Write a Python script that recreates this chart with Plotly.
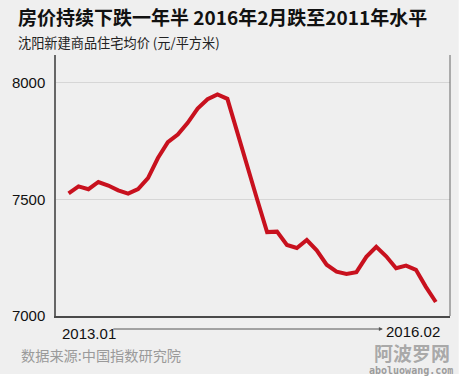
import plotly.graph_objects as go

# ---- data ----
months = [f"{y}.{m:02d}" for y in (2013, 2014, 2015, 2016) for m in range(1, 13)]
months = months[:38]  # 2013.01 .. 2016.02
prices = [7526, 7556, 7544, 7575, 7560, 7539, 7525, 7545, 7592, 7678,
          7746, 7779, 7829, 7890, 7930, 7951, 7932, 7784, 7642, 7500,
          7360, 7362, 7305, 7292, 7326, 7282, 7220, 7190, 7180, 7188,
          7254, 7297, 7256, 7205, 7216, 7198, 7125, 7060]
y_ticks = [7000, 7500, 8000]
title_text = "房价持续下跌一年半 2016年2月跌至2011年水平"
subtitle_text = "沈阳新建商品住宅均价 (元/平方米)"
source_text = "数据来源:中国指数研究院"
start_label = months[0]
end_label = months[-1]

W, H = 466, 379
L, R, T, B = 45, 16, 55, 63
pw, ph = W - L - R, H - T - B


def px(x):
    return (x - L) / pw


def py(y):
    return (H - B - y) / ph


fig = go.Figure()
fig.add_trace(go.Scatter(
    x=months, y=prices, mode="lines",
    line=dict(color="#c8111e", width=4, shape="linear"),
    hoverinfo="skip", showlegend=False,
))

cjk = "Noto Sans CJK SC"
fig.update_layout(
    width=W, height=H,
    margin=dict(l=L, r=R, t=T, b=B, pad=0),
    paper_bgcolor="#efefef", plot_bgcolor="#efefef",
    font=dict(family="Liberation Sans, Arial", color="#111", size=14),
    xaxis=dict(type="category", range=[-1.27, 38.43], showticklabels=False,
               showgrid=False, zeroline=False, showline=True,
               linecolor="#4a4a4a", linewidth=2, ticks=""),
    yaxis=dict(range=[7000, 8120], tickvals=y_ticks, showgrid=True,
               gridcolor="#d6d6d6", gridwidth=1, zeroline=False,
               showline=True, linecolor="#666", linewidth=1.5, ticks="",
               ticklabelstandoff=6,
               tickfont=dict(family="Liberation Sans, Arial", size=15, color="#111")),
    shapes=[
        dict(type="line", xref="paper", yref="paper", x0=1, x1=1, y0=0, y1=1,
             line=dict(color="#666", width=1)),
        dict(type="rect", xref="paper", yref="paper", x0=px(459), x1=px(480),
             y0=py(400), y1=py(-20), fillcolor="white", line=dict(width=0), layer="below"),
        dict(type="rect", xref="paper", yref="paper", x0=px(-20), x1=px(480),
             y0=py(400), y1=py(374), fillcolor="white", line=dict(width=0), layer="below"),
    ],
    annotations=[
        dict(text=f"<b>{title_text}</b>", xref="paper", yref="paper",
             x=px(4), y=py(16), xanchor="left", yanchor="middle", showarrow=False,
             font=dict(family=cjk, size=19, color="#111")),
        dict(text=subtitle_text, xref="paper", yref="paper",
             x=px(4), y=py(42), xanchor="left", yanchor="middle", showarrow=False,
             font=dict(family=cjk, size=13.2, color="#222")),
        dict(text=source_text, xref="paper", yref="paper",
             x=px(7), y=py(355), xanchor="left", yanchor="middle", showarrow=False,
             font=dict(family=cjk, size=14.2, color="#9a9a9a")),
        dict(text=start_label, xref="paper", yref="paper",
             x=px(79), y=py(333), xanchor="center", yanchor="middle", showarrow=False,
             font=dict(family="Liberation Sans, Arial", size=15, color="#111")),
        dict(text=end_label, xref="paper", yref="paper",
             x=px(412), y=py(331), xanchor="center", yanchor="middle", showarrow=False,
             font=dict(family="Liberation Sans, Arial", size=15, color="#111")),
        dict(text="", xref="paper", yref="paper", x=px(381), y=py(329),
             ax=-271, ay=0, showarrow=True, arrowhead=2, arrowsize=0.8,
             arrowwidth=1, arrowcolor="#555"),
        dict(text="<b>阿波罗网</b>", xref="paper", yref="paper",
             x=px(411), y=py(352), xanchor="center", yanchor="middle", showarrow=False,
             font=dict(family=cjk, size=19, color="rgba(150,150,150,0.8)")),
        dict(text="<b>aboluowang.com</b>", xref="paper", yref="paper",
             x=px(410), y=py(370.5), xanchor="center", yanchor="middle", showarrow=False,
             font=dict(family="DejaVu Sans Mono, monospace", size=10, color="rgba(140,140,140,0.85)")),
    ],
)

fig.write_html("out.html", config={"displayModeBar": False},
               post_script="document.body.style.margin='0';document.body.style.background='white';")
